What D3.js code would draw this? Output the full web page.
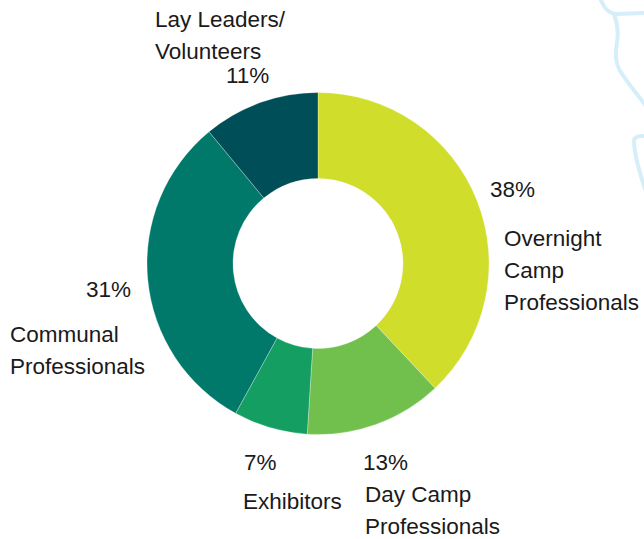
<!DOCTYPE html>
<html>
<head>
<meta charset="utf-8">
<script src="https://cdn.jsdelivr.net/npm/d3@7"></script>
<style>
  html, body { margin: 0; padding: 0; background: #fff; }
  text { font-family: "Liberation Sans", Arial, Helvetica, sans-serif; fill: #1a1a1a; }
</style>
</head>
<body>
<svg id="chart" width="644" height="539"></svg>
<script>
// data
var categories = ["Overnight Camp Professionals", "Day Camp Professionals", "Exhibitors", "Communal Professionals", "Lay Leaders/ Volunteers"];
var values = [38, 13, 7, 31, 11];
var colors = ["#d0dd2b", "#71bf4c", "#159e62", "#00786a", "#004e57"];

// label layout (name lines + where the percent / name sit)
var labelLines = [["Overnight", "Camp", "Professionals"], ["Day Camp", "Professionals"], ["Exhibitors"], ["Communal", "Professionals"], ["Lay Leaders/", "Volunteers"]];
var pctPos = [[490, 197], [363, 470], [244, 470], [86, 297], [226, 83]];
var namePos = [[504, 246], [365, 502], [243, 509], [10, 342], [155, 27]];

var w = 644, h = 539;
var cx = 318, cy = 263.5;
var rOuter = 171, rInner = 85;
var lineH = 32;

var svg = d3.select("#chart");

// light blue decoration top right
var deco = svg.append("g")
    .attr("fill", "none")
    .attr("stroke", "#d6eef9")
    .attr("stroke-width", 4)
    .attr("stroke-linecap", "round");
deco.append("path").attr("d", "M600,-2 C604,8 608,13 616,14 L646,13");
deco.append("path").attr("d", "M614,14 C617,22 619,30 617,42 C615,55 615,64 622,74 C630,86 638,95 646,106");
deco.append("path").attr("d", "M646,136 C640,136 634,136 634,141 C634,152 638,168 646,192");

var pie = d3.pie().sort(null).value(function(d) { return d; });
var arc = d3.arc().innerRadius(rInner).outerRadius(rOuter);

var g = svg.append("g").attr("transform", "translate(" + cx + "," + cy + ")");

g.selectAll("path")
    .data(pie(values))
    .enter()
    .append("path")
    .attr("d", arc)
    .attr("fill", function(d, i) { return colors[i]; })
    .attr("stroke", "#fff")
    .attr("stroke-width", 0.3);

// percent labels
svg.selectAll("text.pct")
    .data(values)
    .enter()
    .append("text")
    .attr("class", "pct")
    .attr("x", function(d, i) { return pctPos[i][0]; })
    .attr("y", function(d, i) { return pctPos[i][1]; })
    .style("font-size", "22.5px")
    .text(function(d) { return d + "%"; });

// category labels
var names = svg.selectAll("text.name")
    .data(categories)
    .enter()
    .append("text")
    .attr("class", "name")
    .attr("x", function(d, i) { return namePos[i][0]; })
    .attr("y", function(d, i) { return namePos[i][1]; })
    .style("font-size", "22.5px");

names.selectAll("tspan")
    .data(function(d, i) { return labelLines[i].map(function(l) { return {line: l, i: i}; }); })
    .enter()
    .append("tspan")
    .attr("x", function(d) { return namePos[d.i][0]; })
    .attr("dy", function(d, j) { return j === 0 ? 0 : lineH; })
    .text(function(d) { return d.line; });
</script>
</body>
</html>
